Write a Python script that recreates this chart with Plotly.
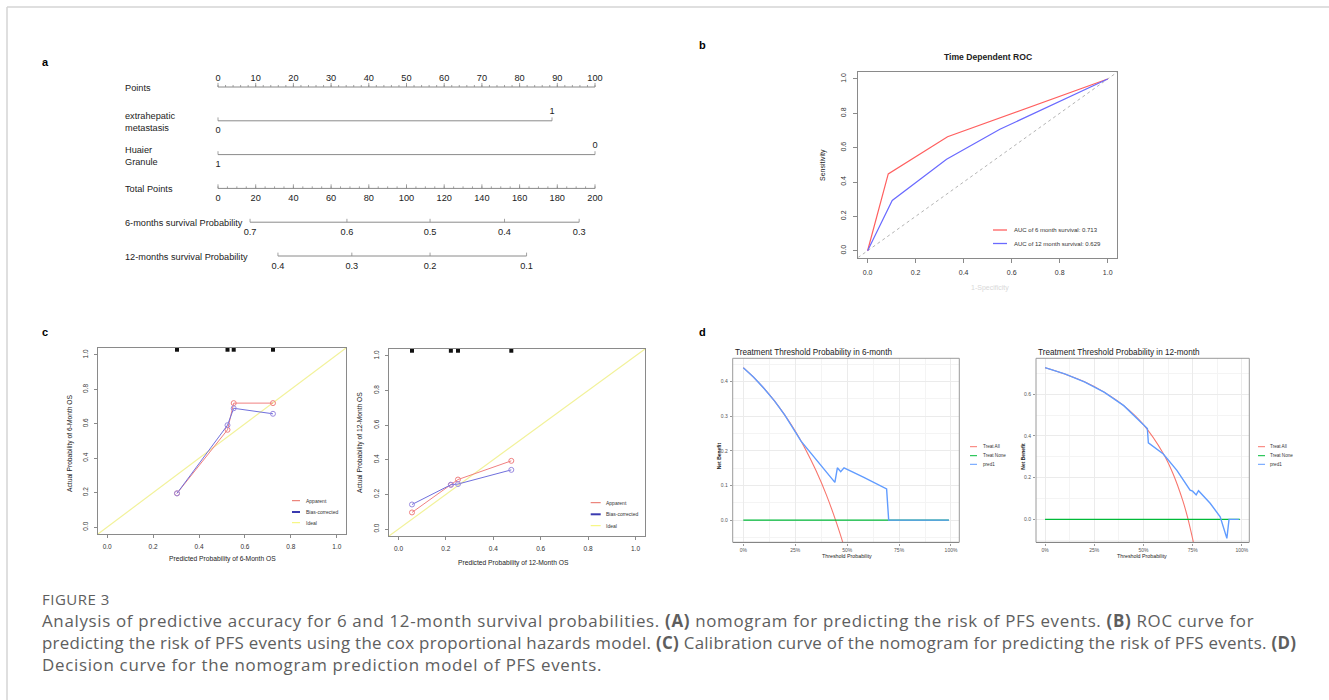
import plotly.graph_objects as go

W, H = 1329, 700
def fx(p): return p / W
def fy(p): return 1 - p / H

# ---------------- DATA ----------------
# Panel a : nomogram
nomo_row_labels = ["Points", "extrahepatic<br>metastasis", "Huaier<br>Granule", "Total Points",
                   "6-months survival Probability", "12-months survival Probability"]
points_ticks = [0, 10, 20, 30, 40, 50, 60, 70, 80, 90, 100]
points_minor = list(range(0, 101, 2))
extra_labels = ["0", "1"]
extra_points = [0, 88.6]
huaier_labels = ["1", "0"]
huaier_points = [0, 100]
total_ticks = [0, 20, 40, 60, 80, 100, 120, 140, 160, 180, 200]
total_minor = list(range(0, 201, 5))
prob6_labels = ["0.7", "0.6", "0.5", "0.4", "0.3"]
prob6_total = [17.0, 68.4, 112.5, 152.0, 191.6]
prob12_labels = ["0.4", "0.3", "0.2", "0.1"]
prob12_total = [31.8, 71.0, 112.5, 163.7]

# Panel b : time dependent ROC
roc6_fpr = [0.0, 0.086, 0.333, 1.0]
roc6_tpr = [0.0, 0.447, 0.664, 1.0]
roc12_fpr = [0.0, 0.1025, 0.329, 0.551, 1.0]
roc12_tpr = [0.0, 0.293, 0.532, 0.707, 1.0]
roc_ref = [-0.04, 1.04]
roc_legend = ["AUC of 6 month survival: 0.713", "AUC of 12 month survival: 0.629"]
unit_ticks = [0.0, 0.2, 0.4, 0.6, 0.8, 1.0]

# Panel c : calibration
cal6_pred = [0.304, 0.524, 0.551, 0.722]
cal6_apparent = [0.196, 0.565, 0.720, 0.720]
cal6_bias = [0.196, 0.592, 0.690, 0.658]
cal12_pred = [0.057, 0.221, 0.251, 0.476]
cal12_apparent = [0.096, 0.256, 0.286, 0.394]
cal12_bias = [0.142, 0.256, 0.260, 0.342]
cal_ideal = [-0.04, 1.04]
cal_rug_y = 1.03
cal_legend = ["Apparent", "Bias-corrected", "Ideal"]

# Panel d : decision curves
dca6_all_thr = [0.0, 0.05, 0.10, 0.15, 0.20, 0.25, 0.30, 0.35, 0.40, 0.45, 0.479]
dca6_all_nb = [0.440, 0.412, 0.380, 0.344, 0.303, 0.257, 0.204, 0.143, 0.073, -0.010, -0.064]
dca6_pred_thr = [0.0, 0.05, 0.10, 0.15, 0.20, 0.25, 0.278, 0.441, 0.453, 0.469, 0.485, 0.578, 0.690, 0.700, 0.990]
dca6_pred_nb = [0.440, 0.412, 0.380, 0.344, 0.303, 0.257, 0.228, 0.109, 0.151, 0.140, 0.151, 0.124, 0.090, 0.0, 0.0]
dca12_all_thr = [0.0, 0.10, 0.20, 0.30, 0.40, 0.50, 0.60, 0.65, 0.70, 0.725, 0.754]
dca12_all_nb = [0.727, 0.697, 0.659, 0.610, 0.545, 0.454, 0.317, 0.220, 0.090, 0.007, -0.110]
dca12_pred_thr = [0.0, 0.10, 0.20, 0.30, 0.40, 0.50, 0.520, 0.525, 0.601, 0.670, 0.737, 0.750, 0.768,
                  0.780, 0.839, 0.890, 0.924, 0.935, 0.985]
dca12_pred_nb = [0.727, 0.697, 0.659, 0.610, 0.545, 0.454, 0.435, 0.367, 0.313, 0.235, 0.140, 0.135, 0.117,
                 0.137, 0.077, 0.0125, -0.091, 0.0, 0.0]
dca_none_thr = [0.0, 0.99]
dca_none_nb = [0.0, 0.0]
dca_legend = ["Treat All", "Treat None", "pred1"]
dca_xticks = [0.0, 0.25, 0.5, 0.75, 1.0]
dca_xlabels = ["0%", "25%", "50%", "75%", "100%"]

caption_title = "FIGURE 3"
caption_lines = [
    "Analysis of predictive accuracy for 6 and 12-month survival probabilities. <b>(A)</b> nomogram for predicting the risk of PFS events. <b>(B)</b> ROC curve for",
    "predicting the risk of PFS events using the cox proportional hazards model. <b>(C)</b> Calibration curve of the nomogram for predicting the risk of PFS events. <b>(D)</b>",
    "Decision curve for the nomogram prediction model of PFS events.",
]

# ---------------- STYLE ----------------
RF = "Liberation Sans, Arial, sans-serif"
TXT = "#222222"
NOMO_LINE = "#8a8a8a"
RED_ROC, BLUE_ROC = "#FF6060", "#6A6AFF"
APP_C, BIAS_C, IDEAL_C = "#F08080", "#7070DD", "#F2F29A"
GG_RED, GG_GREEN, GG_BLUE = "#F8766D", "#00BA38", "#619CFF"
NOMO_FS = 9.2

fig = go.Figure()

# ---------------- Panel a ----------------
def tick_segs(xs, row, h):
    X, Y = [], []
    for x in xs:
        X += [x, x, None]
        Y += [row, row - h, None]
    return X, Y

def nline(x0, x1, row):
    fig.add_trace(go.Scatter(x=[x0, x1], y=[row, row], mode="lines",
                             line=dict(color=NOMO_LINE, width=1), xaxis="x", yaxis="y",
                             showlegend=False, hoverinfo="skip"))

def nticks(xs, row, h):
    X, Y = tick_segs(xs, row, h)
    fig.add_trace(go.Scatter(x=X, y=Y, mode="lines", line=dict(color=NOMO_LINE, width=0.8),
                             xaxis="x", yaxis="y", showlegend=False, hoverinfo="skip"))

def ntext(xs, row, labels):
    fig.add_trace(go.Scatter(x=xs, y=[row] * len(xs), mode="text", text=labels,
                             textposition="middle center",
                             textfont=dict(family=RF, size=NOMO_FS, color=TXT),
                             xaxis="x", yaxis="y", showlegend=False, hoverinfo="skip"))

UP, DN = -0.26, 0.31
# Points
nline(0, 100, 0)
nticks(points_ticks, 0, 0.12)
nticks(points_minor, 0, 0.06)
ntext(points_ticks, 0 + UP, [str(v) for v in points_ticks])
# extrahepatic metastasis
nline(min(extra_points), max(extra_points), 1)
nticks(extra_points, 1, 0.1)
ntext([extra_points[1]], 1 + UP, [extra_labels[1]])
ntext([extra_points[0]], 1 + DN * 0.95, [extra_labels[0]])
# Huaier granule
nline(min(huaier_points), max(huaier_points), 2)
nticks(huaier_points, 2, 0.1)
ntext([huaier_points[1]], 2 + UP, [huaier_labels[1]])
ntext([huaier_points[0]], 2 + DN * 0.95, [huaier_labels[0]])
# Total points (0-200 mapped onto the 0-100 points scale)
tp = lambda v: v / 2.0
nline(tp(0), tp(200), 3)
nticks([tp(v) for v in total_ticks], 3, 0.12)
nticks([tp(v) for v in total_minor], 3, 0.06)
ntext([tp(v) for v in total_ticks], 3 + DN, [str(v) for v in total_ticks])
# 6-month probability
nline(tp(min(prob6_total)), tp(max(prob6_total)), 4)
nticks([tp(v) for v in prob6_total], 4, 0.1)
ntext([tp(v) for v in prob6_total], 4 + DN, prob6_labels)
# 12-month probability
nline(tp(min(prob12_total)), tp(max(prob12_total)), 5)
nticks([tp(v) for v in prob12_total], 5, 0.1)
ntext([tp(v) for v in prob12_total], 5 + DN, prob12_labels)

annotations = []
for i, lab in enumerate(nomo_row_labels):
    annotations.append(dict(text=lab, x=fx(123), xref="paper", y=i + 0.03, yref="y",
                            xanchor="left", yanchor="middle", showarrow=False, align="left",
                            font=dict(family=RF, size=NOMO_FS, color=TXT)))

# ---------------- Panel b ----------------
fig.add_trace(go.Scatter(x=roc_ref, y=roc_ref, mode="lines", line=dict(color="#A0A0A0", width=0.8, dash="dot"),
                         xaxis="x2", yaxis="y2", showlegend=False, hoverinfo="skip"))
fig.add_trace(go.Scatter(x=roc6_fpr, y=roc6_tpr, mode="lines", line=dict(color=RED_ROC, width=1.2),
                         xaxis="x2", yaxis="y2", showlegend=False))
fig.add_trace(go.Scatter(x=roc12_fpr, y=roc12_tpr, mode="lines", line=dict(color=BLUE_ROC, width=1.2),
                         xaxis="x2", yaxis="y2", showlegend=False))

# ---------------- Panel c ----------------
def calib(pred, app, bias, xa, ya):
    fig.add_trace(go.Scatter(x=cal_ideal, y=cal_ideal, mode="lines", line=dict(color=IDEAL_C, width=1.2),
                             xaxis=xa, yaxis=ya, showlegend=False, hoverinfo="skip"))
    fig.add_trace(go.Scatter(x=pred, y=app, mode="lines+markers", line=dict(color=APP_C, width=1),
                             marker=dict(symbol="circle-open", size=5, color=APP_C, line=dict(width=1)),
                             xaxis=xa, yaxis=ya, showlegend=False))
    fig.add_trace(go.Scatter(x=pred, y=bias, mode="lines+markers", line=dict(color=BIAS_C, width=1),
                             marker=dict(symbol="circle-open", size=5, color="#9A8AE0", line=dict(width=1)),
                             xaxis=xa, yaxis=ya, showlegend=False))
    fig.add_trace(go.Scatter(x=pred, y=[cal_rug_y] * len(pred), mode="markers",
                             marker=dict(symbol="square", size=4, color="#111111"),
                             xaxis=xa, yaxis=ya, showlegend=False, hoverinfo="skip"))

calib(cal6_pred, cal6_apparent, cal6_bias, "x3", "y3")
calib(cal12_pred, cal12_apparent, cal12_bias, "x4", "y4")

# ---------------- Panel d ----------------
def dca(all_t, all_nb, pred_t, pred_nb, xa, ya):
    fig.add_trace(go.Scatter(x=all_t, y=all_nb, mode="lines", line=dict(color=GG_RED, width=1.1, shape="spline"),
                             xaxis=xa, yaxis=ya, showlegend=False, cliponaxis=True))
    fig.add_trace(go.Scatter(x=dca_none_thr, y=dca_none_nb, mode="lines", line=dict(color=GG_GREEN, width=1.4),
                             xaxis=xa, yaxis=ya, showlegend=False))
    fig.add_trace(go.Scatter(x=pred_t, y=pred_nb, mode="lines", line=dict(color=GG_BLUE, width=1.4),
                             xaxis=xa, yaxis=ya, showlegend=False))

dca(dca6_all_thr, dca6_all_nb, dca6_pred_thr, dca6_pred_nb, "x5", "y5")
dca(dca12_all_thr, dca12_all_nb, dca12_pred_thr, dca12_pred_nb, "x6", "y6")

# ---------------- Axes ----------------
def r_axis(domain, rng, size, anchor, is_y=False, standoff=3, ticklen=3):
    d = dict(domain=domain, range=rng, anchor=anchor, showline=True, mirror=True,
             linecolor="#8a8a8a", linewidth=1, ticks="outside", ticklen=ticklen, tickcolor="#8a8a8a",
             tickvals=unit_ticks, tickformat=".1f", showgrid=False, zeroline=False,
             tickfont=dict(family=RF, size=size, color="#333333"), ticklabelstandoff=standoff)
    if is_y:
        d["tickangle"] = -90
    return d

def gg_axis(domain, rng, anchor, is_y, minor_step):
    d = dict(domain=domain, range=rng, anchor=anchor, showgrid=True, gridcolor="#EBEBEB", gridwidth=0.8,
             minor=dict(showgrid=True, gridcolor="#F4F4F4", gridwidth=0.6, dtick=minor_step),
             zeroline=False, ticks="outside", ticklen=2, tickcolor="#999999",
             tickfont=dict(family=RF, size=5, color="#555555"), ticklabelstandoff=1)
    if is_y:
        d.update(showline=False, tickformat=".1f")
    else:
        d.update(showline=True, linecolor="#333333", linewidth=1.4, mirror=False,
                 tickvals=dca_xticks, ticktext=dca_xlabels, ticklabelstandoff=0)
    return d

nomo_xdom = [fx(218 - 18.85), fx(595 + 18.85)]
layout_axes = dict(
    xaxis=dict(domain=nomo_xdom, range=[-5, 105], visible=False, anchor="y"),
    yaxis=dict(domain=[fy(272.9), fy(70.1)], range=[5.5, -0.5], visible=False, anchor="x"),
    xaxis2=r_axis([fx(858), fx(1117.3)], [-0.04, 1.04], 7, "y2", standoff=4, ticklen=4),
    yaxis2=r_axis([fy(257.6), fy(72.1)], [-0.04, 1.04], 7, "x2", True, standoff=4, ticklen=4),
    xaxis3=r_axis([fx(98), fx(346)], [-0.04, 1.04], 6.5, "y3"),
    yaxis3=r_axis([fy(534), fy(348)], [-0.04, 1.04], 6.5, "x3", True),
    xaxis4=r_axis([fx(389), fx(645)], [-0.04, 1.04], 6.5, "y4"),
    yaxis4=r_axis([fy(536), fy(349)], [-0.04, 1.04], 6.5, "x4", True),
    xaxis5=gg_axis([fx(732.7), fx(959.3)], [-0.051, 1.04], "y5", False, 0.125),
    yaxis5=gg_axis([fy(542.3), fy(358.3)], [-0.064, 0.467], "x5", True, 0.05),
    xaxis6=gg_axis([fx(1036), fx(1249.3)], [-0.046, 1.038], "y6", False, 0.125),
    yaxis6=gg_axis([fy(542.3), fy(358.3)], [-0.110, 0.772], "x6", True, 0.1),
)
layout_axes["yaxis5"]["dtick"] = 0.1
layout_axes["yaxis6"]["dtick"] = 0.2

# ---------------- Text / legends ----------------
def ann(text, x, y, size, color=TXT, xanchor="center", angle=0, bold=False, family=RF, yanchor="middle"):
    annotations.append(dict(text=("<b>%s</b>" % text) if bold else text, x=fx(x), y=fy(y),
                            xref="paper", yref="paper", xanchor=xanchor, yanchor=yanchor, align="left",
                            showarrow=False, textangle=angle, font=dict(family=family, size=size, color=color)))

shapes = []
def legend(labels, colors, widths, x0, x1, xt, ys, size):
    for lab, c, w, y in zip(labels, colors, widths, ys):
        shapes.append(dict(type="line", xref="paper", yref="paper", x0=fx(x0), x1=fx(x1),
                           y0=fy(y), y1=fy(y), line=dict(color=c, width=w)))
        ann(lab, xt, y, size, color="#333333", xanchor="left")

# panel letters
ann("a", 40, 62, 11, color="#000", xanchor="left", bold=True)
ann("b", 697, 45, 11, color="#000", xanchor="left", bold=True)
ann("c", 40, 332, 11, color="#000", xanchor="left", bold=True)
ann("d", 697, 332, 11, color="#000", xanchor="left", bold=True)

# ROC
ann("Time Dependent ROC", 988, 57, 8.6, bold=True)
ann("Sensitivity", 823, 165, 7, angle=-90)
ann("1-Specificity", 990, 288, 7, color="#d8d8d8")
legend(roc_legend, [RED_ROC, BLUE_ROC], [1.3, 1.3], 993, 1007, 1012, [230, 243.5], 6)

# calibration
ann("Predicted Probability of 6-Month OS", 222, 559.3, 6.7)
ann("Actual Probability of 6-Month OS", 70, 443, 6.7, angle=-90)
ann("Predicted Probability of 12-Month OS", 513, 563.3, 6.7)
ann("Actual Probability of 12-Month OS", 360, 443, 6.7, angle=-90)
legend(cal_legend, ["#E86A5F", "#3A3AB0", "#F5F56A"], [1, 2, 1], 292, 300, 304, [500.7, 512, 522.7], 5)
legend(cal_legend, ["#E86A5F", "#3A3AB0", "#F5F56A"], [1, 2, 1], 590.7, 600.7, 604, [502.7, 514.3, 525.7], 5)

# DCA
ann("Treatment Threshold Probability in 6-month", 733, 352.7, 8.2, xanchor="left")
ann("Net Benefit", 719.3, 456, 5, angle=-90, bold=True)
ann("Threshold Probability", 847, 556, 5.3)
ann("Treatment Threshold Probability in 12-month", 1036, 352.7, 8.2, xanchor="left")
ann("Net Benefit", 1022.7, 456, 5, angle=-90, bold=True)
ann("Threshold Probability", 1142, 556, 5.3)
legend(dca_legend, [GG_RED, GG_GREEN, GG_BLUE], [1, 1, 1], 970, 977, 980.5, [446.7, 455.7, 464.3], 4.6)
legend(dca_legend, [GG_RED, GG_GREEN, GG_BLUE], [1, 1, 1], 1258, 1265, 1268, [446.7, 455.7, 464.3], 4.6)

# DCA panel borders
for xa, ya in (("x5", "y5"), ("x6", "y6")):
    shapes.append(dict(type="rect", xref=xa + " domain", yref=ya + " domain", x0=0, x1=1, y0=0, y1=1,
                       line=dict(color="#9a9a9a", width=1), fillcolor="rgba(0,0,0,0)", layer="above"))

# figure frame
shapes.append(dict(type="line", xref="paper", yref="paper", x0=fx(7), x1=1, y0=fy(7), y1=fy(7),
                   line=dict(color="#d4d4d4", width=1.5)))
shapes.append(dict(type="line", xref="paper", yref="paper", x0=fx(7), x1=fx(7), y0=fy(7), y1=0,
                   line=dict(color="#d4d4d4", width=1.5)))

# caption: one block, 22 px line pitch, per-line letter spacing to mimic justified text
CF = "Open Sans, Lato, sans-serif"
CC = "#5e5e5e"
caption_html = "<br>".join([
    "<span style='font-size:15px;letter-spacing:0.5px'>%s</span>" % caption_title,
    "<span style='letter-spacing:0.68px'>%s</span>" % caption_lines[0],
    "<span style='letter-spacing:0.28px'>%s</span>" % caption_lines[1],
    "<span style='letter-spacing:0.7px'>%s</span>" % caption_lines[2],
])
ann(caption_html, 40, 632.8, 16.9, color=CC, xanchor="left", family=CF)

fig.update_layout(width=W, height=H, margin=dict(l=0, r=0, t=0, b=0),
                  paper_bgcolor="white", plot_bgcolor="white", showlegend=False,
                  annotations=annotations, shapes=shapes, **layout_axes)

fig.write_html("out.html", config={"displayModeBar": False},
               post_script="document.body.style.margin='0';document.body.style.padding='0';")
